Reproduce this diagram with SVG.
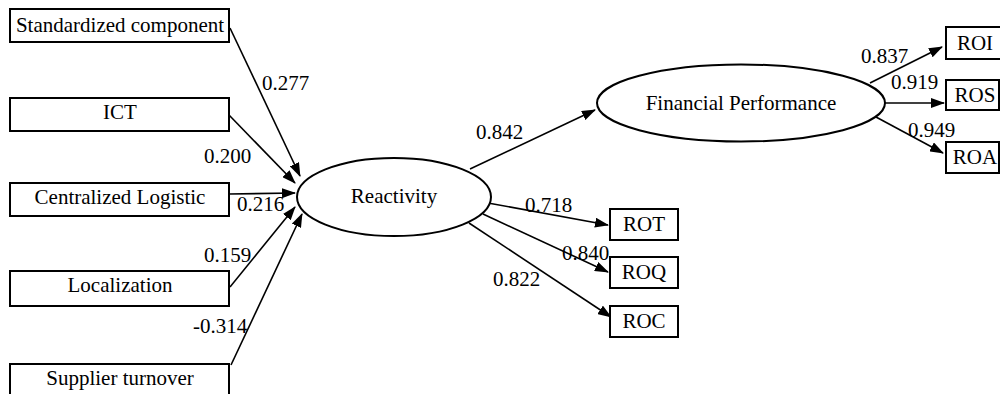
<svg xmlns="http://www.w3.org/2000/svg" width="1000" height="394" viewBox="0 0 1000 394">
<style>
.box{fill:#fff;stroke:#000;stroke-width:2}
.ell{fill:#fff;stroke:#000;stroke-width:2}
text{font-family:'Liberation Serif','Times New Roman','DejaVu Serif',serif;font-size:21px;fill:#000}
.c{text-anchor:middle}
.e{stroke:#000;stroke-width:1.6;fill:none;marker-end:url(#ah)}
</style>
<defs>
<marker id="ah" markerUnits="userSpaceOnUse" markerWidth="14" markerHeight="10" refX="13" refY="5" orient="auto">
<path d="M0,0 L14,5 L0,10 z" fill="#000"/>
</marker>
</defs>
<rect width="1000" height="394" fill="#fff"/>
<g id="connectors" font-family="Liberation Serif, serif">
<line class="e" x1="230" y1="28" x2="300" y2="176"/>
<line class="e" x1="229" y1="115" x2="295" y2="183"/>
<line class="e" x1="229" y1="194" x2="295" y2="193"/>
<line class="e" x1="230" y1="287" x2="295" y2="207"/>
<line class="e" x1="231" y1="365" x2="302" y2="214"/>
<line class="e" x1="470" y1="169" x2="595" y2="110"/>
<line class="e" x1="488" y1="203" x2="608" y2="225"/>
<line class="e" x1="483" y1="214" x2="608" y2="272"/>
<line class="e" x1="469" y1="223" x2="611" y2="317"/>
<line class="e" x1="870" y1="83" x2="942" y2="47"/>
<line class="e" x1="885" y1="103" x2="944" y2="103"/>
<line class="e" x1="876" y1="117" x2="943" y2="153"/>
<text x="262" y="90">0.277</text>
<text x="204" y="163">0.200</text>
<text x="237" y="211">0.216</text>
<text x="204" y="262">0.159</text>
<text x="193" y="333">-0.314</text>
<text x="476" y="139">0.842</text>
<text x="525" y="212">0.718</text>
<text x="562" y="260">0.840</text>
<text x="493" y="286">0.822</text>
<text x="861" y="63">0.837</text>
<text x="891" y="89">0.919</text>
<text x="908" y="137">0.949</text>
</g>
<g id="n-standardized">
<rect class="box" x="10" y="9" width="219" height="33"/>
<text class="c" x="120" y="32">Standardized component</text>
</g>
<g id="n-ict">
<rect class="box" x="10" y="98" width="219" height="33"/>
<text class="c" x="120" y="119">ICT</text>
</g>
<g id="n-centralized">
<rect class="box" x="10" y="183" width="219" height="33"/>
<text class="c" x="120" y="204">Centralized Logistic</text>
</g>
<g id="n-localization">
<rect class="box" x="10" y="271" width="219" height="35"/>
<text class="c" x="120" y="292">Localization</text>
</g>
<g id="n-supplier">
<rect class="box" x="10" y="364" width="219" height="34"/>
<text class="c" x="120" y="385">Supplier turnover</text>
</g>
<g id="n-reactivity">
<ellipse class="ell" cx="394" cy="197" rx="97" ry="39"/>
<text class="c" x="394" y="203">Reactivity</text>
</g>
<g id="n-financial">
<ellipse class="ell" cx="741" cy="103" rx="144" ry="38.5"/>
<text class="c" x="741" y="110">Financial Performance</text>
</g>
<g id="n-roi">
<rect class="box" x="946" y="27" width="56" height="32"/>
<text class="c" x="975" y="50">ROI</text>
</g>
<g id="n-ros">
<rect class="box" x="946" y="80" width="53" height="30"/>
<text class="c" x="975" y="102">ROS</text>
</g>
<g id="n-roa">
<rect class="box" x="946" y="142" width="53" height="31"/>
<text class="c" x="975" y="164">ROA</text>
</g>
<g id="n-rot">
<rect class="box" x="610" y="209" width="68" height="31"/>
<text class="c" x="644" y="231">ROT</text>
</g>
<g id="n-roq">
<rect class="box" x="610" y="257" width="68" height="31"/>
<text class="c" x="644" y="279">ROQ</text>
</g>
<g id="n-roc">
<rect class="box" x="610" y="306" width="68" height="31"/>
<text class="c" x="644" y="328">ROC</text>
</g>
</svg>
